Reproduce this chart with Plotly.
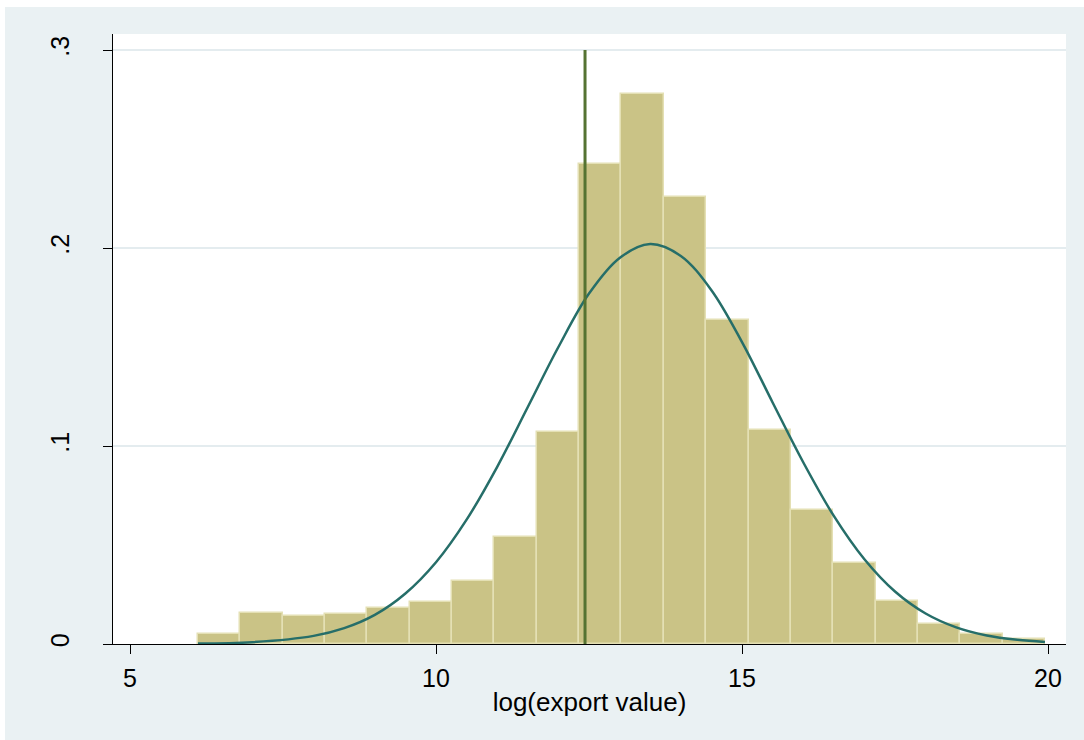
import plotly.graph_objects as go

# Histogram (density) of log(export value)
bin_centers = [6.456, 7.148, 7.840, 8.532, 9.224, 9.916, 10.608, 11.300, 11.992, 12.684,
               13.376, 14.068, 14.760, 15.452, 16.144, 16.836, 17.528, 18.220, 18.912, 19.604]
densities = [0.0051, 0.0158, 0.0143, 0.0152, 0.0182, 0.0212, 0.0318, 0.0540, 0.1070, 0.2424,
             0.2778, 0.2256, 0.1636, 0.1080, 0.0677, 0.0410, 0.0217, 0.0103, 0.0050, 0.0027]
bin_width = 0.692

# Normal density overlay
curve_x = [6.11, 7.0, 8.0, 8.5, 9.0, 9.5, 10.0, 10.5, 11.0, 11.5, 12.0, 12.5, 13.0, 13.5,
           14.0, 14.5, 15.0, 15.5, 16.0, 16.5, 17.0, 17.5, 18.0, 18.5, 19.0, 19.5, 19.95]
curve_y = [0.0002, 0.0009, 0.0041, 0.0080, 0.0147, 0.0255, 0.0413, 0.0628, 0.0895, 0.1197,
           0.1500, 0.1770, 0.1950, 0.2020, 0.1960, 0.1787, 0.1525, 0.1220, 0.0918, 0.0647,
           0.0428, 0.0265, 0.0154, 0.0084, 0.0043, 0.0021, 0.0010]

# Reference line
ref_x = 12.435
ref_y = [0, 0.3]

x_ticks = [5, 10, 15, 20]
x_tick_labels = ["5", "10", "15", "20"]
y_ticks = [0, 0.1, 0.2, 0.3]
y_tick_labels = ["0", ".1", ".2", ".3"]

font_family = "Liberation Sans, Arial, sans-serif"

fig = go.Figure()
fig.add_trace(go.Bar(
    x=bin_centers, y=densities, width=bin_width,
    marker=dict(color="#CAC386", line=dict(color="#E4E0B4", width=1.5)),
    showlegend=False, hoverinfo="x+y",
))
fig.add_trace(go.Scatter(
    x=curve_x, y=curve_y, mode="lines", line=dict(color="#266E69", width=2.5, shape="spline"),
    showlegend=False,
))
fig.add_trace(go.Scatter(
    x=[ref_x, ref_x], y=ref_y, mode="lines", line=dict(color="#557332", width=3),
    showlegend=False,
))

fig.update_layout(
    width=1084, height=740,
    margin=dict(l=113, r=18, t=34, b=96),
    paper_bgcolor="#EAF1F3",
    plot_bgcolor="#FFFFFF",
    font=dict(family=font_family, size=24, color="#000000"),
    bargap=0,
    xaxis=dict(
        range=[4.722, 20.294], tickmode="array", tickvals=x_ticks, ticktext=x_tick_labels,
        showgrid=False, zeroline=False, showline=True, linecolor="#000000", linewidth=1.2,
        ticks="outside", ticklen=9, tickwidth=1.2, tickcolor="#000000",
        tickfont=dict(size=25), ticklabelstandoff=3,
        title=dict(text="log(export value)", font=dict(size=26), standoff=1),
    ),
    yaxis=dict(
        range=[0, 0.3081], tickmode="array", tickvals=y_ticks, ticktext=y_tick_labels,
        showgrid=True, gridcolor="#E4ECEF", gridwidth=1.5, zeroline=False,
        showline=True, linecolor="#000000", linewidth=1.2,
        ticks="outside", ticklen=9, tickwidth=1.2, tickcolor="#000000",
        tickangle=-90, tickfont=dict(size=25), ticklabelstandoff=24,
    ),
    shapes=[
        dict(type="rect", xref="paper", yref="paper", x0=-0.2, x1=1.2, y0=1.0443, y1=1.2,
             fillcolor="#FFFFFF", line=dict(width=0), layer="below"),
        dict(type="rect", xref="paper", yref="paper", x0=-0.2, x1=-0.1133, y0=-0.3, y1=1.2,
             fillcolor="#FFFFFF", line=dict(width=0), layer="below"),
    ],
)

fig.write_html("out.html")
